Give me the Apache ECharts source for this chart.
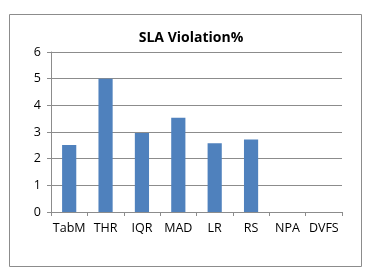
<!DOCTYPE html>
<html><head><meta charset="utf-8">
<script src="https://cdn.jsdelivr.net/npm/echarts@6/dist/echarts.min.js"></script>
<style>html,body{margin:0;padding:0;background:#fff}#c{width:384px;height:272px}</style>
</head><body><div id="c"></div>
<script>
const categories = ["TabM","THR","IQR","MAD","LR","RS","NPA","DVFS"];
const values = [2.51, 5.0, 2.96, 3.53, 2.58, 2.72, 0, 0];
const yTicks = [0, 6, 1];
const chart = echarts.init(document.getElementById('c'), null, {renderer:'canvas'});
const font = 'Open Sans';
chart.setOption({
  animation:false,
  title:{text:'SLA Violation%', left:186, top:26, textAlign:'center',
    textStyle:{fontFamily:font, fontSize:14, fontWeight:'bold', color:'#000'}},
  graphic:[{type:'rect', shape:{x:9.5, y:14.5, width:352, height:252},
    style:{fill:'none', stroke:'#8c8c8c', lineWidth:1}, silent:true}],
  grid:{left:51, right:42, top:52, bottom:60},
  xAxis:{type:'category', data:categories,
    axisLine:{lineStyle:{color:'#8c8c8c'}},
    axisTick:{show:true, length:4, lineStyle:{color:'#8c8c8c'}},
    axisLabel:{fontFamily:font, fontSize:12.5, color:'#000', margin:10, interval:0}},
  yAxis:{type:'value', min:yTicks[0], max:yTicks[1], interval:yTicks[2],
    axisLine:{show:true, lineStyle:{color:'#8c8c8c'}},
    axisTick:{show:true, length:4, lineStyle:{color:'#8c8c8c'}},
    splitLine:{lineStyle:{color:'#8c8c8c'}},
    axisLabel:{fontFamily:font, fontSize:12.5, color:'#000', margin:10}},
  series:[{type:'bar', data:values, barWidth:'39%', itemStyle:{color:'#4f81bd'}}]
});
</script></body></html>
